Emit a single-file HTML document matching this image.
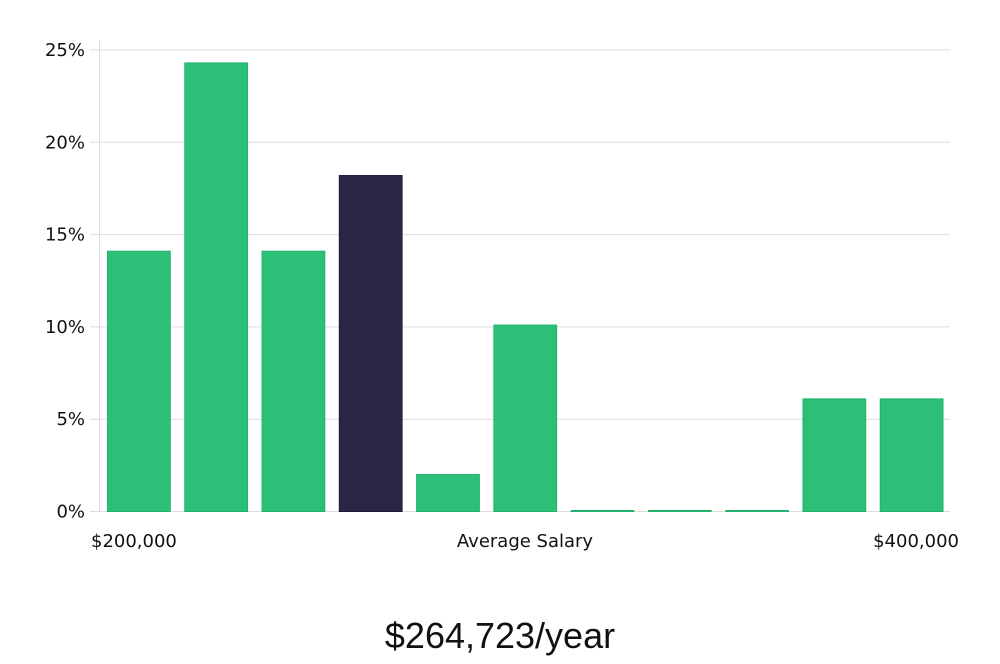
<!DOCTYPE html>
<html><head><meta charset="utf-8"><style>
body{margin:0;background:#fff;width:1000px;height:660px;overflow:hidden;font-family:"DejaVu Sans","Liberation Sans",sans-serif;}
</style></head><body>
<svg id="chart" width="1000" height="660" xmlns="http://www.w3.org/2000/svg">
<g id="grid"></g>
<g id="bars"></g>
<g id="yaxis"></g>
<line x1="99.5" y1="40" x2="99.5" y2="512" stroke="#ddd" stroke-width="1"/>
<text x="91" y="547" font-size="18" fill="#111">$200,000</text>
<text x="525" y="547" font-size="18" fill="#111" text-anchor="middle">Average Salary</text>
<text x="959" y="547" font-size="18" fill="#111" text-anchor="end">$400,000</text>
<text x="500" y="648" font-size="36" fill="#111" text-anchor="middle" font-family="Liberation Sans, sans-serif" font-weight="300">$264,723/year</text>
</svg>
<script>
const categories=["b1","b2","b3","b4","b5","b6","b7","b8","b9","b10","b11"];
const values=[14.1,24.3,14.1,18.2,2.0,10.1,0,0,0,6.1,6.1];
const highlight=[false,false,false,true,false,false,false,false,false,false,false];
const yTicks=[0,5,10,15,20,25];
const NS="http://www.w3.org/2000/svg";
const x0=100,x1=950,y0=511.5,yTop=50;
const y=v=>y0-(v/25)*(y0-yTop);
const bw=(x1-x0)/categories.length;
const grid=document.getElementById('grid'),bars=document.getElementById('bars'),ya=document.getElementById('yaxis');
yTicks.forEach(t=>{
 const l=document.createElementNS(NS,'line');
 
 
 l.setAttribute('x1',90);l.setAttribute('x2',950);l.setAttribute('y1',y(t));l.setAttribute('y2',y(t));
 l.setAttribute('stroke','#ddd');l.setAttribute('stroke-width','1');grid.appendChild(l);
 const tx=document.createElementNS(NS,'text');
 
 
 tx.setAttribute('x',85);tx.setAttribute('y',y(t)+6);tx.setAttribute('text-anchor','end');
 tx.setAttribute('font-size','18');tx.setAttribute('fill','#111');tx.textContent=t+'%';ya.appendChild(tx);
});
values.forEach((v,i)=>{
 const r=document.createElementNS(NS,'rect');
 
 
 const h=Math.max(y0-y(v),1);
 r.setAttribute('x',x0+i*bw+7.5);r.setAttribute('width',bw-14.5);
 r.setAttribute('y',y0-h);r.setAttribute('height',h);
 r.setAttribute('fill',highlight[i]?'#292647':'#2bbf77');
 r.setAttribute('stroke',highlight[i]?'#1c1a3a':'#22b26c');r.setAttribute('stroke-width','1');
 bars.appendChild(r);
});
</script>
</body></html>
